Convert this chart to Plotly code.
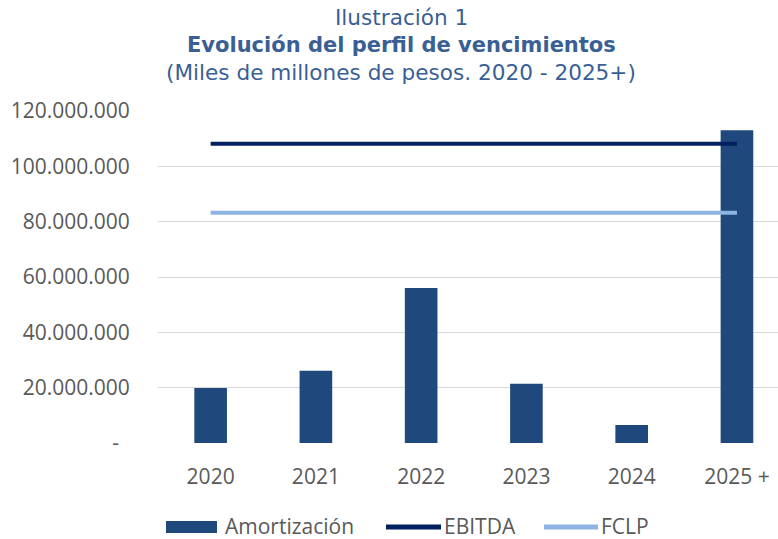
import plotly.graph_objects as go

categories = ["2020", "2021", "2022", "2023", "2024", "2025 +"]
amortizacion = [19900000, 26100000, 56000000, 21400000, 6500000, 113000000]
ebitda = [108200000] * 6
fclp = [83200000] * 6
y_tickvals = [0, 20000000, 40000000, 60000000, 80000000, 100000000, 120000000]
y_ticktext = ["-\u00a0\u00a0", "20.000.000", "40.000.000", "60.000.000", "80.000.000", "100.000.000", "120.000.000"]
series_names = ["Amortización", "EBITDA", "FCLP"]

title_color = "#3A5F95"
tick_color = "#595959"
bar_color = "#1F497D"
ebitda_color = "#002060"
fclp_color = "#8DB4E2"

W, H = 778, 539
PLOT_LEFT, PLOT_RIGHT = 158, 778
PLOT_TOP, PLOT_BOTTOM = 111, 443


def px(pix):
    return (pix - PLOT_LEFT) / (PLOT_RIGHT - PLOT_LEFT)


def py(pix):
    return (PLOT_BOTTOM - pix) / (PLOT_BOTTOM - PLOT_TOP)


fig = go.Figure()
fig.add_trace(go.Bar(x=categories, y=amortizacion, name=series_names[0],
                     marker=dict(color=bar_color, line=dict(width=0)), width=0.31))
fig.add_trace(go.Scatter(x=categories, y=ebitda, name=series_names[1], mode="lines",
                         line=dict(color=ebitda_color, width=4)))
fig.add_trace(go.Scatter(x=categories, y=fclp, name=series_names[2], mode="lines",
                         line=dict(color=fclp_color, width=4)))

fig.update_layout(
    width=W, height=H,
    margin=dict(l=PLOT_LEFT, r=W - PLOT_RIGHT, t=PLOT_TOP, b=H - PLOT_BOTTOM),
    paper_bgcolor="white", plot_bgcolor="white",
    showlegend=False,
    font=dict(family="Open Sans", color=tick_color),
    xaxis=dict(type="category", range=[-0.5, 5.39], showgrid=False, showline=False,
               ticks="outside", ticklen=15, tickcolor="rgba(0,0,0,0)",
               tickfont=dict(family="Open Sans", size=21, color=tick_color)),
    yaxis=dict(range=[0, 120000000], tickvals=y_tickvals, ticktext=y_ticktext,
               showgrid=True, gridcolor="#D9D9D9", gridwidth=1, zeroline=False,
               showline=False, ticks="outside", ticklen=23, tickcolor="rgba(0,0,0,0)",
               tickfont=dict(family="Open Sans", size=21, color=tick_color)),
    bargap=0.69,
)

# titles (centred over the chart like the reference)
TITLE_X = px(401)
fig.add_annotation(text="Ilustración 1", xref="paper", yref="paper", x=TITLE_X, y=py(17),
                   xanchor="center", yanchor="middle", showarrow=False,
                   font=dict(family="Verdana, DejaVu Sans, sans-serif", size=21.6, color=title_color))
fig.add_annotation(text="<b>Evolución del perfil de vencimientos</b>", xref="paper", yref="paper",
                   x=TITLE_X, y=py(45), xanchor="center", yanchor="middle", showarrow=False,
                   font=dict(family="Verdana, DejaVu Sans, sans-serif", size=21, color=title_color))
fig.add_annotation(text="(Miles de millones de pesos. 2020 - 2025+)", xref="paper", yref="paper",
                   x=TITLE_X, y=py(72), xanchor="center", yanchor="middle", showarrow=False,
                   font=dict(family="Verdana, DejaVu Sans, sans-serif", size=21.6, color=title_color))

# legend (drawn like the reference: wide bar swatch, long line swatches)
LEG_Y = 527
fig.add_shape(type="rect", xref="paper", yref="paper", x0=px(166), x1=px(217),
              y0=py(LEG_Y + 6), y1=py(LEG_Y - 6), fillcolor=bar_color, line=dict(width=0))
fig.add_shape(type="line", xref="paper", yref="paper", x0=px(386), x1=px(441),
              y0=py(LEG_Y), y1=py(LEG_Y), line=dict(color=ebitda_color, width=5))
fig.add_shape(type="line", xref="paper", yref="paper", x0=px(544), x1=px(598),
              y0=py(LEG_Y), y1=py(LEG_Y), line=dict(color=fclp_color, width=5))
for name, left in zip(series_names, [223, 442, 599]):
    fig.add_annotation(text=name, xref="paper", yref="paper", x=px(left), y=py(LEG_Y - 1),
                       xanchor="left", yanchor="middle", showarrow=False,
                       font=dict(family="Open Sans", size=21, color=tick_color))

# remove the browser's default 8px body margin so the figure fills the window
fig.write_html("out.html", config={"displayModeBar": False},
               post_script="document.body.style.margin='0';")
